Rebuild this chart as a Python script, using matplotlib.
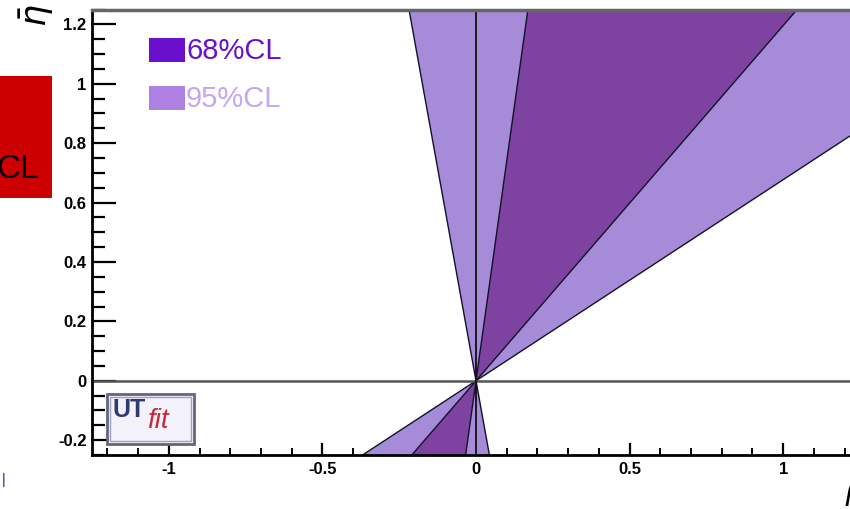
import numpy as np
import matplotlib
matplotlib.use("Agg")
import matplotlib.pyplot as plt
from matplotlib.patches import Polygon, Rectangle

# Allowed directions (degrees from the rho-bar axis) of the constraint through the origin
ANGLE_95 = [34.1, 99.9]
ANGLE_68 = [50.1, 82.3]

LEVELS = ["68%CL", "95%CL"]

X_RANGE = [-1.25, 1.25]
Y_RANGE = [-0.25, 1.25]
X_MAJOR = [-1, -0.5, 0, 0.5, 1]
X_LABELS = ["-1", "-0.5", "0", "0.5", "1"]
Y_MAJOR = [-0.2, 0, 0.2, 0.4, 0.6, 0.8, 1, 1.2]
Y_LABELS = ["-0.2", "0", "0.2", "0.4", "0.6", "0.8", "1", "1.2"]

COLOR_68 = "#7e43a1"
COLOR_95 = "#a58bd8"
LEG_68 = "#6a10cc"
LEG_95 = "#ae80e4"
TXT_68 = "#6a10cc"
TXT_95 = "#c4a6f4"

W, H = 850, 509
plt.rcParams["font.family"] = ["Liberation Sans", "DejaVu Sans"]


def fpos(x, y):
    # figure pixel (top-left origin) -> figure fraction
    return x / W, 1 - y / H


def double_wedge(ax, angles, color, radius=10.0):
    for shift in (0, 180):
        a1, a2 = np.radians(np.array(angles) + shift)
        pts = [(0, 0), (radius * np.cos(a1), radius * np.sin(a1)),
               (radius * np.cos(a2), radius * np.sin(a2))]
        ax.add_patch(Polygon(pts, closed=True, facecolor=color,
                             edgecolor="#15102a", lw=1.0, zorder=2))


def main():
    fig = plt.figure(figsize=(W / 100, H / 100), dpi=100)
    fig.patch.set_facecolor("white")

    left, right = 92, 860
    top, bottom = 9.5, 455
    ax = fig.add_axes([left / W, 1 - bottom / H, (right - left) / W, (bottom - top) / H])
    ax.set_xlim(X_RANGE)
    ax.set_ylim(Y_RANGE)

    double_wedge(ax, ANGLE_95, COLOR_95)
    double_wedge(ax, ANGLE_68, COLOR_68)

    ax.axhline(0, color="#555555", lw=1.8, zorder=3)
    ax.axvline(0, color="#111111", lw=1.3, zorder=3)

    # ROOT-like axes: inward ticks, heavy labels
    ax.set_xticks(X_MAJOR)
    ax.set_xticklabels(X_LABELS)
    ax.set_yticks(Y_MAJOR)
    ax.set_yticklabels(Y_LABELS)
    ax.set_xticks(np.arange(-1.2, 1.25, 0.1), minor=True)
    ax.set_yticks(np.arange(-0.25, 1.26, 0.05), minor=True)
    ax.tick_params(axis="x", which="major", direction="in", length=9, width=1.6, pad=5)
    ax.tick_params(axis="x", which="minor", direction="in", length=5, width=1.4)
    ax.tick_params(axis="y", which="major", direction="in", length=17, width=1.6, pad=4)
    ax.tick_params(axis="y", which="minor", direction="in", length=9, width=1.6)
    for lab in ax.get_xticklabels() + ax.get_yticklabels():
        lab.set_fontsize(12)
        lab.set_fontweight("bold")

    ax.spines["left"].set_linewidth(2)
    ax.spines["bottom"].set_linewidth(2)
    ax.spines["top"].set_linewidth(2.5)
    ax.spines["top"].set_color("#666666")
    ax.spines["right"].set_visible(False)
    for s in ax.spines.values():
        s.set_zorder(5)

    # legend boxes
    for i, (label, box, txt) in enumerate(zip(LEVELS, [LEG_68, LEG_95], [TXT_68, TXT_95])):
        y0 = 38 + i * 48
        x, y = fpos(149, y0 + 24)
        fig.patches.append(Rectangle((x, y), 36 / W, 24 / H, transform=fig.transFigure,
                                     facecolor=box, edgecolor="none", zorder=6))
        tx, ty = fpos(186, y0 + 13)
        fig.text(tx, ty, label, color=txt, fontsize=21, va="center", ha="left", zorder=7)

    # UTfit logo
    x, y = fpos(107, 444)
    fig.patches.append(Rectangle((x, y), 87 / W, 50 / H, transform=fig.transFigure,
                                 facecolor="#f3f2fb", edgecolor="#66667a", lw=2, zorder=6))
    x, y = fpos(110, 441)
    fig.patches.append(Rectangle((x, y), 81 / W, 44 / H, transform=fig.transFigure,
                                 facecolor="none", edgecolor="#a0a0c0", lw=1, zorder=6))
    tx, ty = fpos(112, 410)
    fig.text(tx, ty, "UT", color="#2f3a72", fontsize=18, fontweight="bold",
             va="center", ha="left", zorder=7)
    tx, ty = fpos(147, 421)
    fig.text(tx, ty, "fit", color="#c8283a", fontsize=20, fontstyle="italic",
             va="center", ha="left", zorder=7)

    # clipped remnants around the frame
    x, y = fpos(0, 198)
    fig.patches.append(Rectangle((x, y), 52 / W, 122 / H, transform=fig.transFigure,
                                 facecolor="#cc0000", edgecolor="none", zorder=6))
    tx, ty = fpos(39, 170)
    fig.text(tx, ty, "CL", color="black", fontsize=24, va="center", ha="right", zorder=7)

    tx, ty = fpos(37, 16)
    fig.text(tx, ty, r"$\bar{\eta}$", fontsize=25, rotation=90, va="center", ha="center")
    tx, ty = fpos(844, 491)
    fig.text(tx, ty, r"$\bar{\rho}$", fontsize=22, va="center", ha="left")
    tx, ty = fpos(2, 480)
    fig.text(tx, ty, "|", color="#1a1a80", fontsize=10, va="center", ha="left")

    fig.savefig("out.png", dpi=100)


if __name__ == "__main__":
    main()
